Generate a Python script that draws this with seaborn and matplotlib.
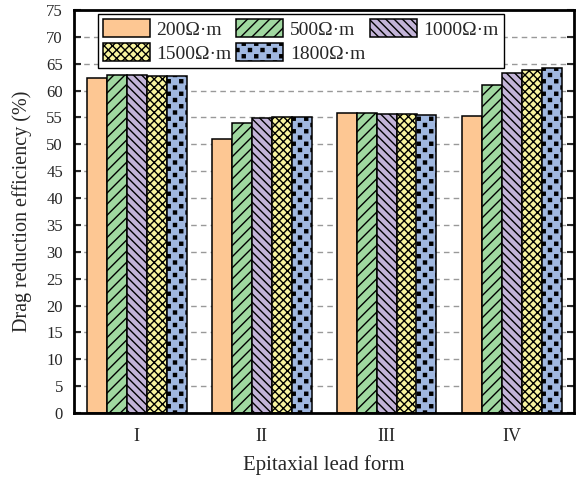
import numpy as np
import pandas as pd
import matplotlib
matplotlib.use("Agg")
import matplotlib.pyplot as plt
import matplotlib.hatch as mhatch
from matplotlib.path import Path
import seaborn as sns

# ---- data ----
forms = ["I", "II", "III", "IV"]
levels = ["200Ω·m", "500Ω·m", "1000Ω·m", "1500Ω·m", "1800Ω·m"]
v200 = [62.4, 51.0, 55.9, 55.2]
v500 = [62.9, 53.9, 55.8, 61.1]
v1000 = [62.9, 54.9, 55.6, 63.2]
v1500 = [62.8, 55.1, 55.6, 63.9]
v1800 = [62.7, 55.1, 55.5, 64.2]
yticks = list(range(0, 80, 5))

colors = ["#FDC793", "#A0D8A0", "#C3B4D8", "#F8F49E", "#A0B8E0"]
hatches = [None, "///", "\\\\\\\\", "xxxx", "*"]


# ---- custom square-dot hatch (replaces the '*' star pattern) ----
class SquareDots(mhatch.HatchPatternBase):
    def __init__(self, hatch, density):
        n = hatch.count("*")
        self.ncols = 8 * n
        self.nrows = 16 * n
        self.half = 0.015
        if n == 0:
            self.num_vertices = 0
            self.pts = np.empty((0, 2))
            return
        pts = []
        for r in range(self.nrows + 1):
            y = r / self.nrows
            if r % 2 == 0:
                xs = np.linspace(0, 1, self.ncols + 1)
            else:
                xs = np.linspace(0.5 / self.ncols, 1 - 0.5 / self.ncols, self.ncols)
            for x in xs:
                pts.append((x, y))
        self.pts = np.array(pts)
        self.num_vertices = len(pts) * 5

    def set_vertices_and_codes(self, vertices, codes):
        h = self.half
        sq = np.array([[-h, -h], [h, -h], [h, h], [-h, h], [-h, -h]])
        sc = [Path.MOVETO, Path.LINETO, Path.LINETO, Path.LINETO, Path.CLOSEPOLY]
        cur = 0
        for p in self.pts:
            vertices[cur:cur + 5] = sq + p
            codes[cur:cur + 5] = sc
            cur += 5


mhatch._hatch_types = [t for t in mhatch._hatch_types if t is not mhatch.Stars] + [SquareDots]

df = pd.DataFrame({
    "form": forms * 5,
    "level": sum([[lv] * 4 for lv in levels], []),
    "value": v200 + v500 + v1000 + v1500 + v1800,
})

sns.set_theme(style="white")
plt.rcParams["font.family"] = ["Liberation Serif", "DejaVu Serif"]
plt.rcParams["hatch.linewidth"] = 1.0
plt.rcParams["hatch.color"] = "black"

fig = plt.figure(figsize=(5.77, 4.8), dpi=100)
ax = fig.add_axes([74 / 577, 67 / 480, 500 / 577, 403 / 480])

sns.barplot(data=df, x="form", y="value", hue="level", order=forms,
            hue_order=levels, palette=colors, width=0.8, gap=0,
            edgecolor="black", linewidth=1.1, saturation=1, ax=ax,
            legend=False, errorbar=None)

handles = []
for cont, h in zip(ax.containers, hatches):
    for p in cont.patches:
        if h:
            p.set_hatch(h)
    handles.append(cont.patches[0])

ax.set_xlim(-0.5, 3.5)
ax.set_ylim(0, 75)
ax.set_yticks(yticks)
ax.set_yticklabels([str(t) for t in yticks], fontsize=12)
ax.tick_params(axis="y", direction="in", length=5, width=1.5, left=True,
               right=True, labelright=False, pad=8)
ax.tick_params(axis="x", length=0, labelsize=13, pad=11)

ax.set_axisbelow(True)
ax.yaxis.grid(True, linestyle=(0, (4, 3)), color="#999999", linewidth=1.0)
ax.xaxis.grid(False)

for s in ax.spines.values():
    s.set_visible(True)
    s.set_color("black")
    s.set_linewidth(2.0)

ax.set_xlabel("Epitaxial lead form", fontsize=15, labelpad=7)
ax.set_ylabel("Drag reduction efficiency (%)", fontsize=14.5, labelpad=10)

# row-major legend order (matplotlib fills columns first)
order = [0, 3, 1, 4, 2]
leg = ax.legend([handles[i] for i in order], [levels[i] for i in order],
                loc="upper left",
                bbox_to_anchor=(24 / 500, 1 - 4 / 403), borderaxespad=0,
                ncol=3, fontsize=14, handlelength=2.4, handleheight=1.05,
                handletextpad=0.35, columnspacing=0.25, labelspacing=0.25,
                borderpad=0.25, fancybox=False, framealpha=1,
                edgecolor="black")
leg.get_frame().set_linewidth(1.0)

fig.savefig("out.png", dpi=100)
